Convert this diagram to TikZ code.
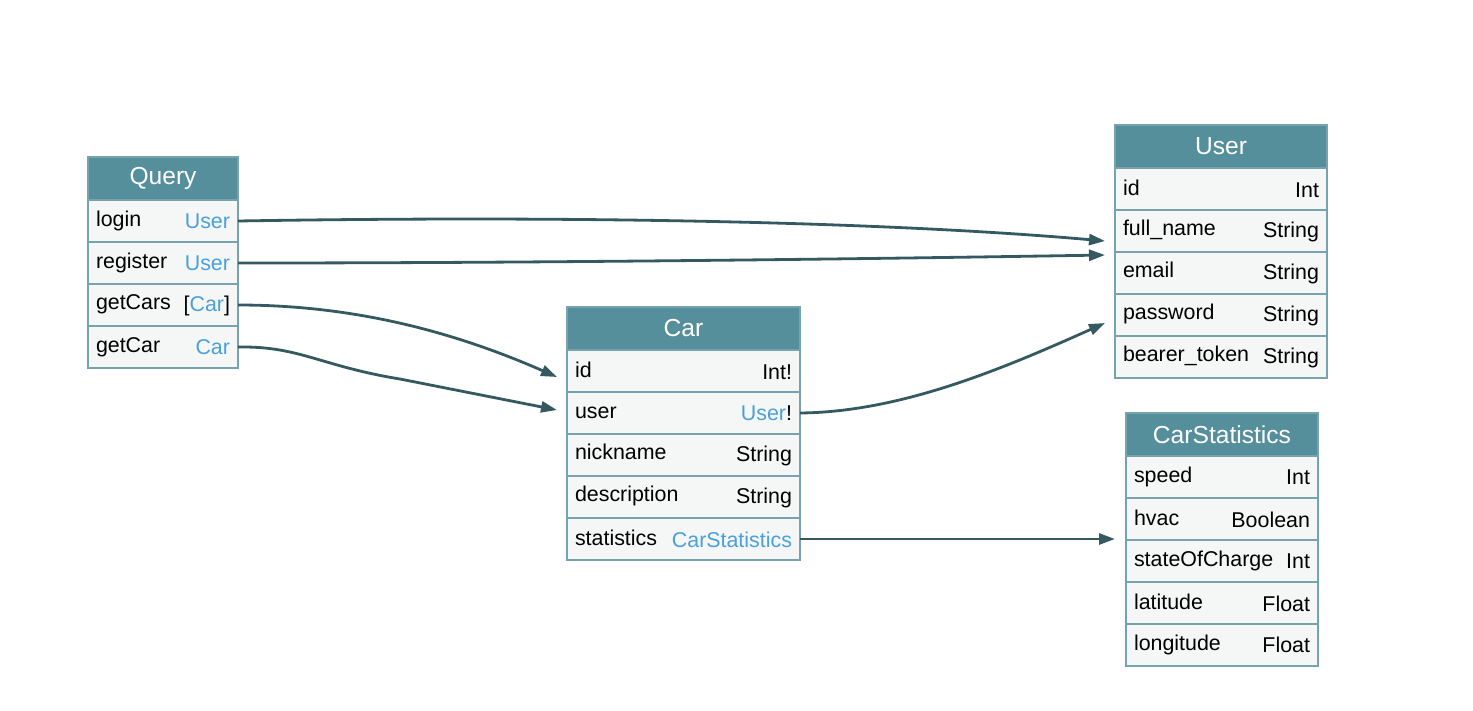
\documentclass[tikz,border=0pt]{standalone}
\usepackage{fontspec}
\setmainfont{Liberation Sans}
\usepackage{xcolor}
\usetikzlibrary{arrows.meta, positioning}

\definecolor{headteal}{HTML}{568F9C}
\definecolor{rowbg}{HTML}{F5F7F7}
\definecolor{rowline}{HTML}{76A3AE}
\definecolor{typeblue}{HTML}{4AA0DC}
\definecolor{edgeslate}{HTML}{355961}

\tikzset{
  head/.style={draw=rowline, fill=headteal, text=white, line width=1.2pt,
    inner sep=0pt, outer sep=0pt, minimum height=43pt,
    font=\fontsize{24.6}{28}\selectfont},
  field/.style={draw=rowline, fill=rowbg, line width=1.2pt, inner sep=0pt,
    outer sep=0pt, minimum height=42pt, align=left,
    font=\fontsize{21.4}{25}\selectfont},
  link/.style={draw=edgeslate, line width=2.8pt, ->},
}
\newcommand{\fieldrow}[2]{\raisebox{2pt}{#1}\hfill #2}
\newcommand{\tref}[1]{\textcolor{typeblue}{#1}}

\begin{document}
\begin{tikzpicture}[x=1pt, y=-1pt, >={Triangle[length=16pt,width=11pt]}]
      \useasboundingbox (0,0) rectangle (1473,710);

      % Query
      \node[head, minimum width=150pt, anchor=north west] (q-head) at (88,157) {Query};
      \node[field, minimum width=150pt, text width=134pt, below=0pt of q-head] (q-login) {\fieldrow{login}{\tref{User}}};
      \node[field, minimum width=150pt, text width=134pt, below=0pt of q-login] (q-register) {\fieldrow{register}{\tref{User}}};
      \node[field, minimum width=150pt, text width=134pt, below=0pt of q-register] (q-getcars) {\fieldrow{getCars}{[\tref{Car}]}};
      \node[field, minimum width=150pt, text width=134pt, below=0pt of q-getcars] (q-getcar) {\fieldrow{getCar}{\tref{Car}}};

      % User
      \node[head, minimum width=212pt, anchor=north west] (u-head) at (1115,125) {User};
      \node[field, minimum width=212pt, text width=196pt, below=0pt of u-head] (u-id) {\fieldrow{id}{Int}};
      \node[field, minimum width=212pt, text width=196pt, below=0pt of u-id] (u-fullname) {\fieldrow{full\_name}{String}};
      \node[field, minimum width=212pt, text width=196pt, below=0pt of u-fullname] (u-email) {\fieldrow{email}{String}};
      \node[field, minimum width=212pt, text width=196pt, below=0pt of u-email] (u-password) {\fieldrow{password}{String}};
      \node[field, minimum width=212pt, text width=196pt, below=0pt of u-password] (u-token) {\fieldrow{bearer\_token}{String}};

      % Car
      \node[head, minimum width=233pt, anchor=north west] (c-head) at (567,307) {Car};
      \node[field, minimum width=233pt, text width=217pt, below=0pt of c-head] (c-id) {\fieldrow{id}{Int!}};
      \node[field, minimum width=233pt, text width=217pt, below=0pt of c-id] (c-user) {\fieldrow{user}{\tref{User}!}};
      \node[field, minimum width=233pt, text width=217pt, below=0pt of c-user] (c-nick) {\fieldrow{nickname}{String}};
      \node[field, minimum width=233pt, text width=217pt, below=0pt of c-nick] (c-desc) {\fieldrow{description}{String}};
      \node[field, minimum width=233pt, text width=217pt, below=0pt of c-desc] (c-stat) {\fieldrow{statistics}{\tref{CarStatistics}}};

      % CarStatistics
      \node[head, minimum width=192pt, anchor=north west] (cs-head) at (1126,413) {CarStatistics};
      \node[field, minimum width=192pt, text width=176pt, below=0pt of cs-head] (cs-speed) {\fieldrow{speed}{Int}};
      \node[field, minimum width=192pt, text width=176pt, below=0pt of cs-speed] (cs-hvac) {\fieldrow{hvac}{Boolean}};
      \node[field, minimum width=192pt, text width=176pt, below=0pt of cs-hvac] (cs-soc) {\fieldrow{stateOfCharge}{Int}};
      \node[field, minimum width=192pt, text width=176pt, below=0pt of cs-soc] (cs-lat) {\fieldrow{latitude}{Float}};
      \node[field, minimum width=192pt, text width=176pt, below=0pt of cs-lat] (cs-lon) {\fieldrow{longitude}{Float}};

      % edges
      \draw[link] (q-login.east) .. controls (600,215) and (900,223) .. ([xshift=-10pt,yshift=-10pt]u-fullname.west);
      \draw[link] (q-register.east) .. controls (500,263) and (800,260) .. ([xshift=-10pt,yshift=18pt]u-email.west);
      \draw[link] (q-getcars.east) .. controls (350,305) and (450,330) .. ([xshift=-10pt,yshift=-6pt]c-id.west);
      \draw[link] (q-getcar.east) .. controls (300,346) and (320,366) .. (400,379) -- ([xshift=-10pt,yshift=3pt]c-user.west);
      \draw[link] (c-user.east) .. controls (900,412) and (1000,370) .. ([xshift=-10pt,yshift=-8pt]u-password.west);
      \draw[link] (c-stat.east) -- ([xshift=-11pt]c-stat.east -| cs-hvac.west);
    \end{tikzpicture}
\end{document}
